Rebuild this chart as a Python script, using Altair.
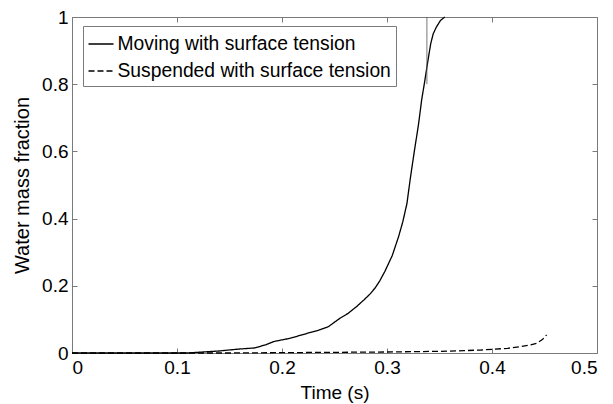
import altair as alt
import pandas as pd

# Moving with surface tension
moving_t = [0.0, 0.11, 0.12, 0.13, 0.14, 0.15, 0.16, 0.174, 0.185, 0.192, 0.2, 0.208,
            0.2235, 0.235, 0.244, 0.255, 0.263, 0.271, 0.278, 0.284, 0.289, 0.293,
            0.298, 0.305, 0.311, 0.315, 0.319, 0.322, 0.326, 0.33, 0.333, 0.336,
            0.338, 0.3416, 0.344, 0.347, 0.351, 0.355]
moving_f = [0.0, 0.0, 0.002, 0.004, 0.006, 0.009, 0.012, 0.015, 0.025, 0.034, 0.039, 0.044,
            0.058, 0.068, 0.078, 0.103, 0.118, 0.138, 0.158, 0.176, 0.195, 0.214,
            0.243, 0.29, 0.346, 0.39, 0.445, 0.515, 0.6, 0.68, 0.753, 0.81,
            0.851, 0.92, 0.95, 0.97, 0.99, 1.0]

# Suspended with surface tension
susp_t = [0.0, 0.15, 0.2, 0.25, 0.3, 0.325, 0.35, 0.373, 0.39, 0.4, 0.415, 0.427,
          0.435, 0.4425, 0.448, 0.452]
susp_f = [0.0, 0.0, 0.001, 0.002, 0.003, 0.004, 0.005, 0.007, 0.009, 0.011, 0.014, 0.019,
          0.023, 0.029, 0.04, 0.054]

series_names = ["Moving with surface tension", "Suspended with surface tension"]

# thin vertical spike line near the top
spike_t = [0.338]
spike_lo = [0.80]
spike_hi = [1.0]

x_ticks = [0, 0.1, 0.2, 0.3, 0.4, 0.5]
y_ticks = [0, 0.2, 0.4, 0.6, 0.8, 1.0]

df = pd.concat([
    pd.DataFrame({"t": moving_t, "f": moving_f, "series": series_names[0], "order": range(len(moving_t))}),
    pd.DataFrame({"t": susp_t, "f": susp_f, "series": series_names[1], "order": range(len(susp_t))}),
])
spike_df = pd.DataFrame({"t": spike_t, "lo": spike_lo, "hi": spike_hi})

FONT = "Liberation Sans"
FS = 19
FRAME = "#7a7a7a"

xscale = alt.Scale(domain=[0, 0.5], nice=False, zero=False)
yscale = alt.Scale(domain=[0, 1], nice=False, zero=False)

main_x_axis = alt.Axis(orient="bottom", values=x_ticks, format="~g", title="Time (s)",
                       ticks=False, tickSize=0, domain=False, grid=False, labelPadding=5,
                       titlePadding=6, labelFontSize=FS, titleFontSize=FS, labelFont=FONT,
                       titleFont=FONT, titleFontWeight="normal", labelColor="black",
                       titleColor="black")
main_y_axis = alt.Axis(orient="left", values=y_ticks, format="~g", title="Water mass fraction",
                       ticks=False, tickSize=0, domain=False, grid=False, labelPadding=4,
                       titlePadding=9, labelFontSize=FS, titleFontSize=20, labelFont=FONT,
                       titleFont=FONT, titleFontWeight="normal", labelColor="black",
                       titleColor="black")

lines = alt.Chart(df).mark_line(strokeWidth=1.3, color="black").encode(
    x=alt.X("t:Q", scale=xscale, axis=main_x_axis),
    y=alt.Y("f:Q", scale=yscale, axis=main_y_axis),
    order="order:Q",
    strokeDash=alt.StrokeDash(
        "series:N",
        scale=alt.Scale(domain=series_names, range=[[1, 0], [6, 3]]),
        legend=alt.Legend(
            title="", orient="none", legendX=11, legendY=9,
            symbolType="stroke", symbolSize=625, symbolStrokeWidth=1.3,
            symbolStrokeColor="black", labelFont=FONT, labelFontSize=19.3,
            labelLimit=500, labelColor="black", labelOffset=3, padding=4.5,
            rowPadding=3, strokeColor=FRAME, fillColor="white", cornerRadius=0,
        ),
    ),
)

spike = alt.Chart(spike_df).mark_rule(color="#555555", strokeWidth=0.8).encode(
    x=alt.X("t:Q", scale=xscale, axis=None),
    y=alt.Y("lo:Q", scale=yscale, axis=None),
    y2="hi:Q",
)


def tick_axis(orient, values):
    return alt.Axis(orient=orient, values=values, offset=-5, tickSize=5, ticks=True,
                    tickColor=FRAME, tickWidth=1, labels=False, domain=False, grid=False,
                    title="")


ticks_a = alt.Chart(df).mark_point(opacity=0).encode(
    x=alt.X("t:Q", scale=xscale, axis=tick_axis("bottom", x_ticks)),
    y=alt.Y("f:Q", scale=yscale, axis=tick_axis("left", y_ticks)),
)
ticks_b = alt.Chart(df).mark_point(opacity=0).encode(
    x=alt.X("t:Q", scale=xscale, axis=tick_axis("top", x_ticks)),
    y=alt.Y("f:Q", scale=yscale, axis=tick_axis("right", y_ticks)),
)

chart = alt.layer(lines, ticks_a, ticks_b, spike).resolve_axis(
    x="independent", y="independent"
).properties(
    width=525, height=336,
    autosize=alt.AutoSizeParams(type="none"),
    padding={"left": 72, "top": 17, "right": 16, "bottom": 51},
    background="white",
).configure_view(stroke=FRAME, strokeWidth=1)

chart.save("out.html", embed_options={"renderer": "svg", "actions": False})
